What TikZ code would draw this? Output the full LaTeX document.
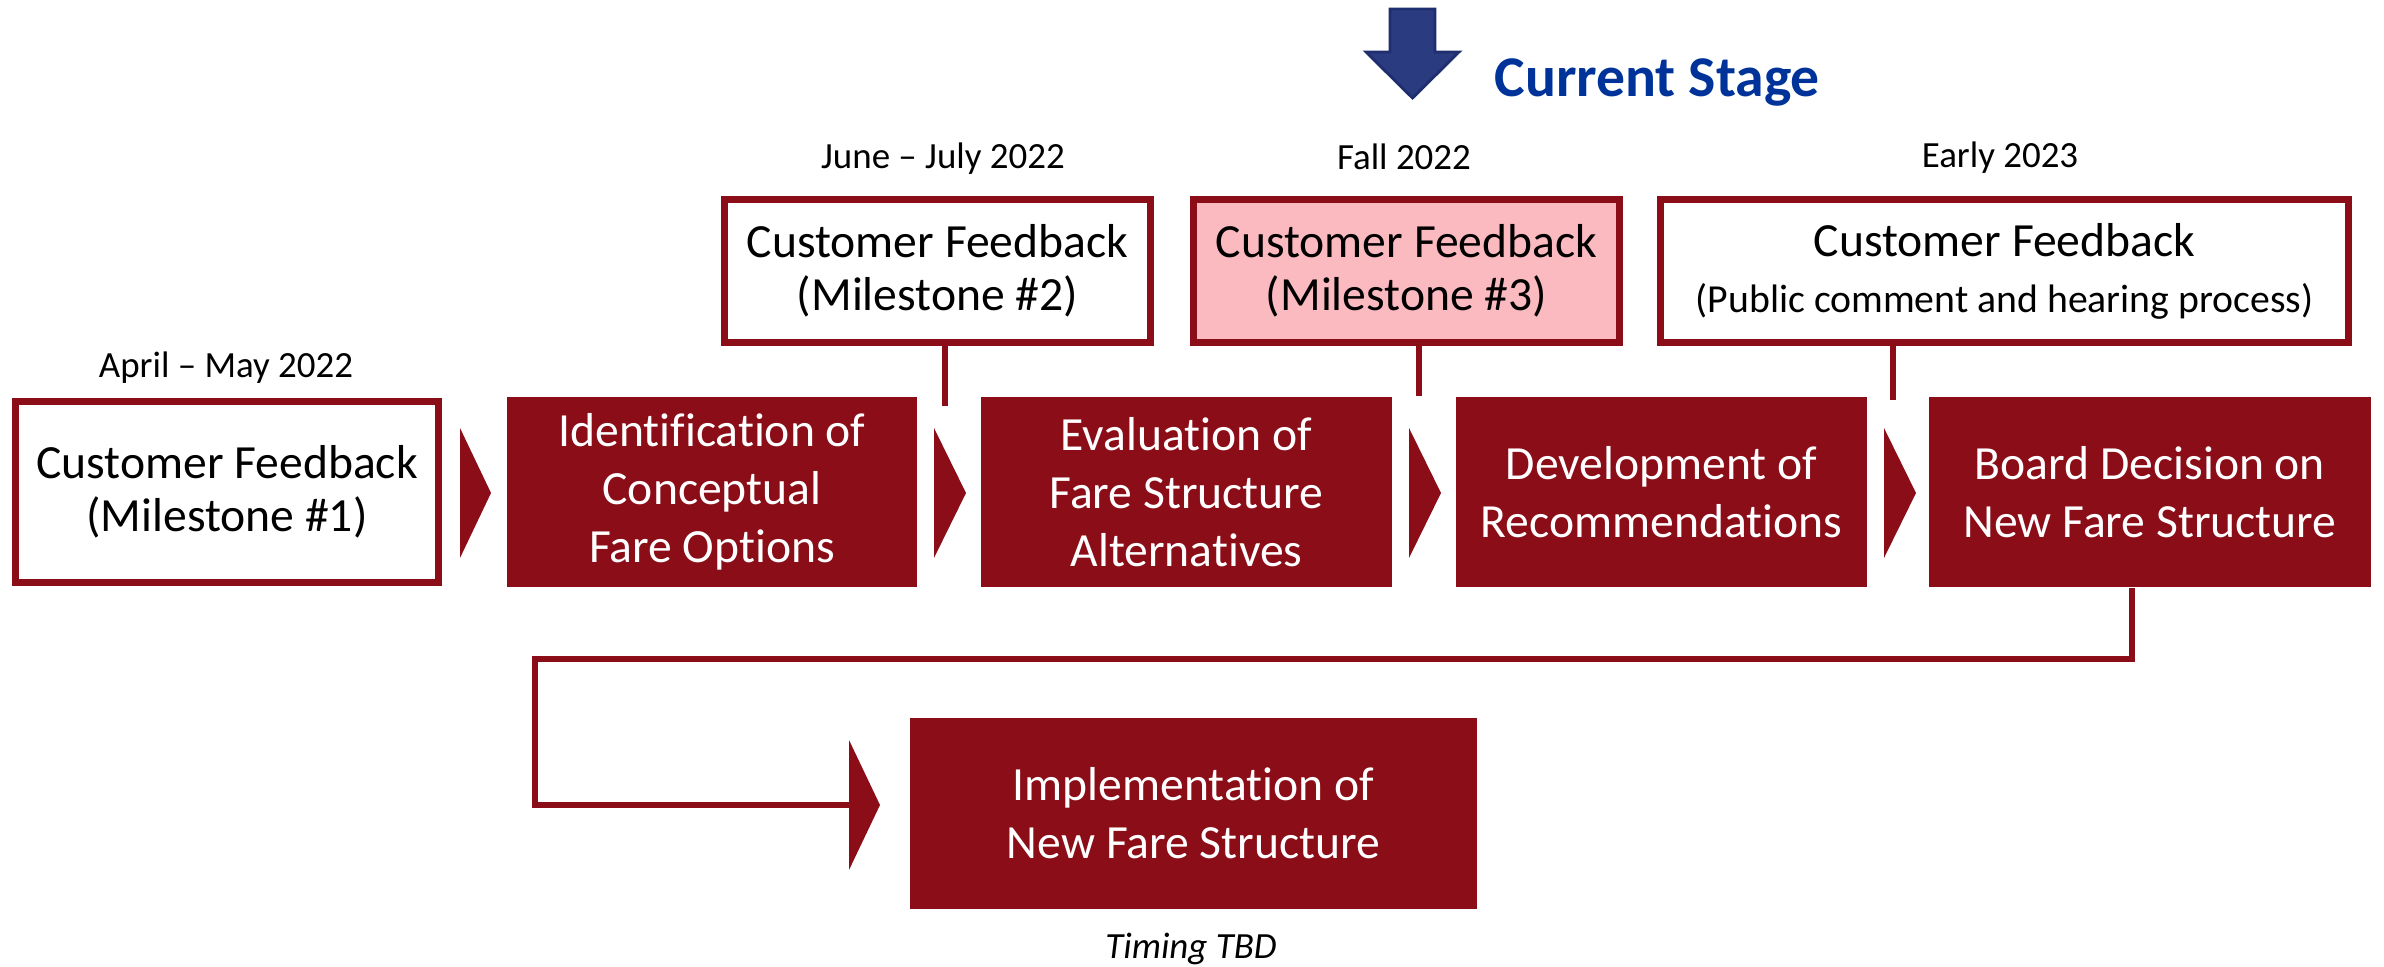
\documentclass[tikz,border=0pt]{standalone}
\usepackage{fontspec}
\setmainfont{Carlito}[Ligatures={NoCommon}]
\definecolor{fr}{HTML}{8B0D18}
\definecolor{pk}{HTML}{FBB9C0}
\definecolor{nv}{HTML}{2A3B80}
\definecolor{nvd}{HTML}{1F2E6E}
\definecolor{cs}{HTML}{003399}
\newcommand\myboxfont{\fontsize{13.54}{16.5}\selectfont}
\newcommand\mytopfont{\fontsize{13.54}{15.1}\selectfont}
\newcommand\mysubfont{\fontsize{11.3}{13.6}\selectfont}
\newcommand\mydatefont{\fontsize{10.5}{12.6}\selectfont}
\newcommand\mycsfont{\fontsize{16.4}{19.7}\selectfont}
\begin{document}
\begin{tikzpicture}[x=0.01cm,y=-0.01cm,
  fillbox/.style={fill=fr, draw=none, text=white, minimum height=1.90cm, inner sep=0pt, align=center, font=\myboxfont},
  linebox/.style={draw=fr, line width=0.07cm, fill=white, text=black, inner sep=0pt, align=center},
  conn/.style={draw=fr, line width=0.06cm, line join=miter},
  chev/.style={fill=fr},
  datelab/.style={font=\mydatefont, anchor=base, inner sep=0pt}]
\useasboundingbox (0,0) rectangle (2384,967);

% top feedback boxes
\node[linebox, minimum width=4.26cm, minimum height=1.43cm, font=\mytopfont] (fb2) at (937.5,271) {Customer Feedback\\(Milestone \#2)};
\node[linebox, fill=pk, minimum width=4.26cm, minimum height=1.43cm, font=\mytopfont] (fb3) at (1406.5,271) {Customer Feedback\\(Milestone \#3)};
\node[linebox, minimum width=6.88cm, minimum height=1.43cm, font=\mytopfont] (fb4) at (2004.5,271) {Customer Feedback\\[0.8pt]{\mysubfont (Public comment and hearing process)}};

\coordinate (j1) at (944.5,406);
\coordinate (j2) at (1419,396);
\coordinate (j3) at (1893,400);
\draw[conn] (fb2.south -| j1) -- (j1);
\draw[conn] (fb3.south -| j2) -- (j2);
\draw[conn] (fb4.south -| j3) -- (j3);

\node[linebox, minimum width=4.23cm, minimum height=1.81cm, font=\mytopfont] (fb1) at (227,492) {Customer Feedback\\(Milestone \#1)};
\node[fillbox, minimum width=4.10cm] (s1) at (712,492) {Identification of\\Conceptual\\Fare Options};
\node[fillbox, minimum width=4.11cm] (s2) at (1186.5,492) {Evaluation of\\Fare Structure\\Alternatives};
\node[fillbox, minimum width=4.11cm] (s3) at (1661.5,492) {Development of\\Recommendations};
\node[fillbox, minimum width=4.42cm] (s4) at (2150,492) {Board Decision on\\New Fare Structure};
\node[fillbox, minimum width=5.67cm, minimum height=1.91cm] (s5) at (1193.5,813.5) {Implementation of\\New Fare Structure};

% chevrons
\fill[chev] (460,428) -- (491,493) -- (460,558) -- cycle;
\fill[chev] (934,428) -- (966,493) -- (934,558) -- cycle;
\fill[chev] (1409,428) -- (1441,493) -- (1409,558) -- cycle;
\fill[chev] (1884,428) -- (1916,493) -- (1884,558) -- cycle;
\coordinate (c5) at (849,805);
\fill[chev] (849,740) -- (880,805) -- (849,870) -- cycle;

% bottom connector
\coordinate (k1) at (2132,659);
\coordinate (k2) at (535,805);
\draw[conn] (s4.south -| k1) -- (k1) -- (k1 -| k2) -- (k2) -- (c5);

% current stage arrow
\fill[nv, draw=nvd, line width=0.8pt] (1390,9) -- (1435,9) -- (1435,52) -- (1459,52) -- (1412.5,98) -- (1366,52) -- (1390,52) -- cycle;
\node[anchor=base west, text=cs, font=\mycsfont\bfseries, inner sep=0pt] (cs) at (1494,97) {Current Stage};

% dates
\node[datelab] (d1) at (226,378) {April – May 2022};
\node[datelab] (d2) at (943,169) {June – July 2022};
\node[datelab] (d3) at (1404,170) {Fall 2022};
\node[datelab] (d4) at (2000,168) {Early 2023};
\node[datelab, font=\mydatefont\itshape] (tt) at (1191,958) {Timing TBD};
\end{tikzpicture}
\end{document}
